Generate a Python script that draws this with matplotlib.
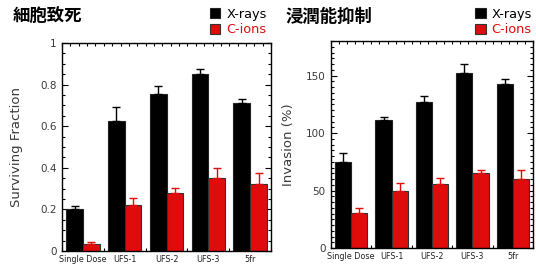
import numpy as np
import matplotlib
matplotlib.use("Agg")
import matplotlib.pyplot as plt
from matplotlib.ticker import MultipleLocator, FixedLocator, FuncFormatter

plt.rcParams['font.family'] = ['DejaVu Sans', 'Noto Sans CJK JP']

groups = ["Single Dose", "UFS-1", "UFS-2", "UFS-3", "5fr"]

# surviving fraction
sf_xray = [0.20, 0.625, 0.755, 0.85, 0.71]
sf_xray_err = [0.015, 0.065, 0.04, 0.025, 0.02]
sf_cion = [0.035, 0.22, 0.28, 0.35, 0.32]
sf_cion_err = [0.01, 0.035, 0.025, 0.05, 0.055]

# invasion (%)
inv_xray = [74.5, 111.5, 127, 152.5, 142.5]
inv_xray_err = [8.5, 2.5, 5, 7.5, 4.5]
inv_cion = [30.5, 50, 56, 65, 60]
inv_cion_err = [4, 6.5, 5, 3, 7.5]

RED = '#e00b0b'
TXT = '#3a3a3a'


def sf_fmt(v, p):
    if abs(v) < 1e-9:
        return '0'
    if abs(v - 1) < 1e-9:
        return '1'
    return f'{v:.1f}'


def draw_panel(ax, xray, xerr, cion, cerr, ylim, major, minor, ylabel, fmt, lab_x):
    x = np.arange(len(groups))
    w = 0.4
    bx = ax.bar(x - w / 2, xray, w, color='black', edgecolor='#222222', linewidth=0.8,
                yerr=[np.zeros(len(xerr)), xerr],
                error_kw=dict(ecolor='black', elinewidth=1.0, capsize=3, capthick=1.0),
                label='X-rays', zorder=2)
    bc = ax.bar(x + w / 2, cion, w, color=RED, edgecolor='#333333', linewidth=0.8,
                yerr=[np.zeros(len(cerr)), cerr],
                error_kw=dict(ecolor=RED, elinewidth=1.0, capsize=3, capthick=1.0),
                label='C-ions', zorder=2)
    ax.set_xlim(-0.5, len(groups) - 0.5)
    ax.set_ylim(*ylim)
    ax.set_xticks(x)
    ax.set_xticklabels(groups, fontsize=5.8, color='#222222')
    ax.xaxis.set_minor_locator(FixedLocator(np.arange(-0.5, 4.51, 0.2)))
    ax.yaxis.set_major_locator(MultipleLocator(major))
    ax.yaxis.set_minor_locator(MultipleLocator(minor))
    ax.yaxis.set_major_formatter(FuncFormatter(fmt))
    ax.tick_params(axis='x', which='major', length=0, pad=3)
    ax.tick_params(axis='x', which='minor', direction='in', length=2.5, width=0.8, top=True, bottom=True)
    ax.tick_params(axis='y', which='major', direction='in', length=4, width=0.8, left=True, right=True,
                   labelsize=7.5, labelcolor=TXT, pad=4)
    ax.tick_params(axis='y', which='minor', direction='in', length=2.5, width=0.8, left=True, right=True)
    for s in ax.spines.values():
        s.set_linewidth(1.0)
    ax.set_ylabel(ylabel, fontsize=9.5, color=TXT)
    ax.yaxis.set_label_coords(lab_x, 0.5)
    return bx, bc


fig = plt.figure(figsize=(5.36, 2.64), dpi=100)
ax1 = fig.add_axes([0.1157, 0.0492, 0.390, 0.788])
ax2 = fig.add_axes([0.6175, 0.0606, 0.377, 0.784])

h1 = draw_panel(ax1, sf_xray, sf_xray_err, sf_cion, sf_cion_err, (0, 1), 0.2, 0.05,
                'Surviving Fraction', sf_fmt, -0.185)
h2 = draw_panel(ax2, inv_xray, inv_xray_err, inv_cion, inv_cion_err, (0, 180), 50, 5,
                'Invasion (%)', lambda v, p: f'{v:.0f}', -0.18)

fig.text(0.024, 0.935, '細胞致死', fontsize=12.5, fontweight='bold', family=['Noto Sans CJK JP'], va='center')
fig.text(0.532, 0.935, '浸潤能抑制', fontsize=12.5, fontweight='bold', family=['Noto Sans CJK JP'], va='center')

for hx, lx in ((h1, 0.375), (h2, 0.870)):
    fig.legend(hx, ['X-rays', 'C-ions'], loc='upper left', bbox_to_anchor=(lx, 1.005),
               frameon=False, fontsize=9.3, handlelength=0.8, handleheight=0.8,
               handletextpad=0.45, labelspacing=0.2, borderpad=0.2,
               labelcolor=['black', RED])

fig.savefig('out.png', dpi=100)
